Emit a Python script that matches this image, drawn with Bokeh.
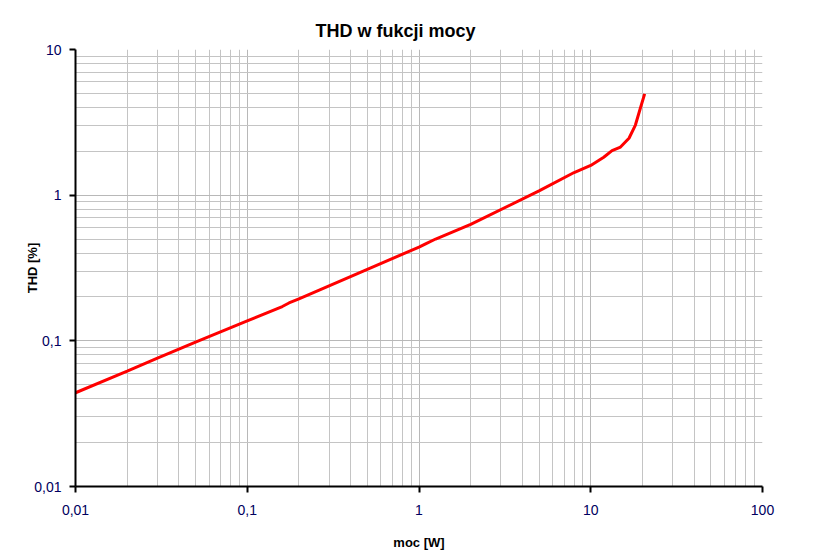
from bokeh.plotting import figure
from bokeh.models import FixedTicker, ColumnDataSource, Range1d
from bokeh.embed import file_html
from bokeh.resources import INLINE

# Data (power in W, THD in %)
power_w = [0.01, 0.02, 0.03, 0.05, 0.1, 0.16, 0.175, 0.2, 0.5, 1.0, 1.1, 1.25, 2.0, 5.0,
           8.0, 10.0, 11.9, 13.3, 14.9, 16.7, 18.2, 19.5, 20.6]
thd_pct = [0.044, 0.062, 0.076, 0.098, 0.137, 0.172, 0.182, 0.194, 0.31, 0.44, 0.465, 0.5,
           0.63, 1.07, 1.43, 1.6, 1.82, 2.02, 2.14, 2.46, 3.03, 4.0, 4.96]

x_ticks = [0.01, 0.1, 1, 10, 100]
x_labels = ["0,01", "0,1", "1", "10", "100"]
y_ticks = [0.01, 0.1, 1, 10]
y_labels = ["0,01", "0,1", "1", "10"]

def minors(decades):
    out = []
    for d in decades[:-1]:
        for k in range(2, 10):
            out.append(round(d * k, 6))
    return out

FONT = "Liberation Sans"

p = figure(width=812, height=552, x_axis_type="log", y_axis_type="log",
           output_backend="svg", toolbar_location=None,
           x_range=Range1d(0.01, 100), y_range=Range1d(0.01, 10),
           min_border_left=75, min_border_right=50, min_border_top=49, min_border_bottom=60)

p.title.text = "THD w fukcji  mocy"
p.title.align = "left"
p.title.text_font = FONT
p.title.text_font_size = "18px"
p.title.text_font_style = "bold"
p.title.text_color = "black"
p.title.offset = 240
p.title.standoff = 17

src = ColumnDataSource(dict(x=power_w, y=thd_pct))
p.line("x", "y", source=src, line_color="#ff0000", line_width=3)

p.xaxis.ticker = FixedTicker(ticks=x_ticks, minor_ticks=minors(x_ticks))
p.yaxis.ticker = FixedTicker(ticks=y_ticks, minor_ticks=minors(y_ticks))
p.xaxis.major_label_overrides = dict(zip(x_ticks, x_labels))
p.yaxis.major_label_overrides = dict(zip(y_ticks, y_labels))

for ax in (p.xaxis, p.yaxis):
    ax.axis_line_color = "black"
    ax.axis_line_width = 2
    ax.major_tick_line_color = "black"
    ax.major_tick_line_width = 2
    ax.major_tick_out = 6
    ax.major_tick_in = 0
    ax.minor_tick_line_color = None
    ax.major_label_text_font = FONT
    ax.major_label_text_font_size = "14px"
    ax.major_label_text_color = "#000060"
    ax.axis_label_text_font = FONT
    ax.axis_label_text_font_size = "13px"
    ax.axis_label_text_font_style = "bold"
    ax.axis_label_text_color = "black"

p.xaxis.axis_label = "moc [W]"
p.yaxis.axis_label = "THD [%]"
p.xaxis.major_label_standoff = 12
p.yaxis.major_label_standoff = 8
p.xaxis.axis_label_standoff = 17
p.yaxis.axis_label_standoff = -9

p.grid.grid_line_color = "#b8b8b8"
p.grid.grid_line_width = 1
p.grid.minor_grid_line_color = "#c4c4c4"
p.grid.minor_grid_line_width = 1
p.outline_line_color = None
p.background_fill_color = "white"
p.border_fill_color = "white"

open("out.html", "w").write(file_html(p, INLINE))
